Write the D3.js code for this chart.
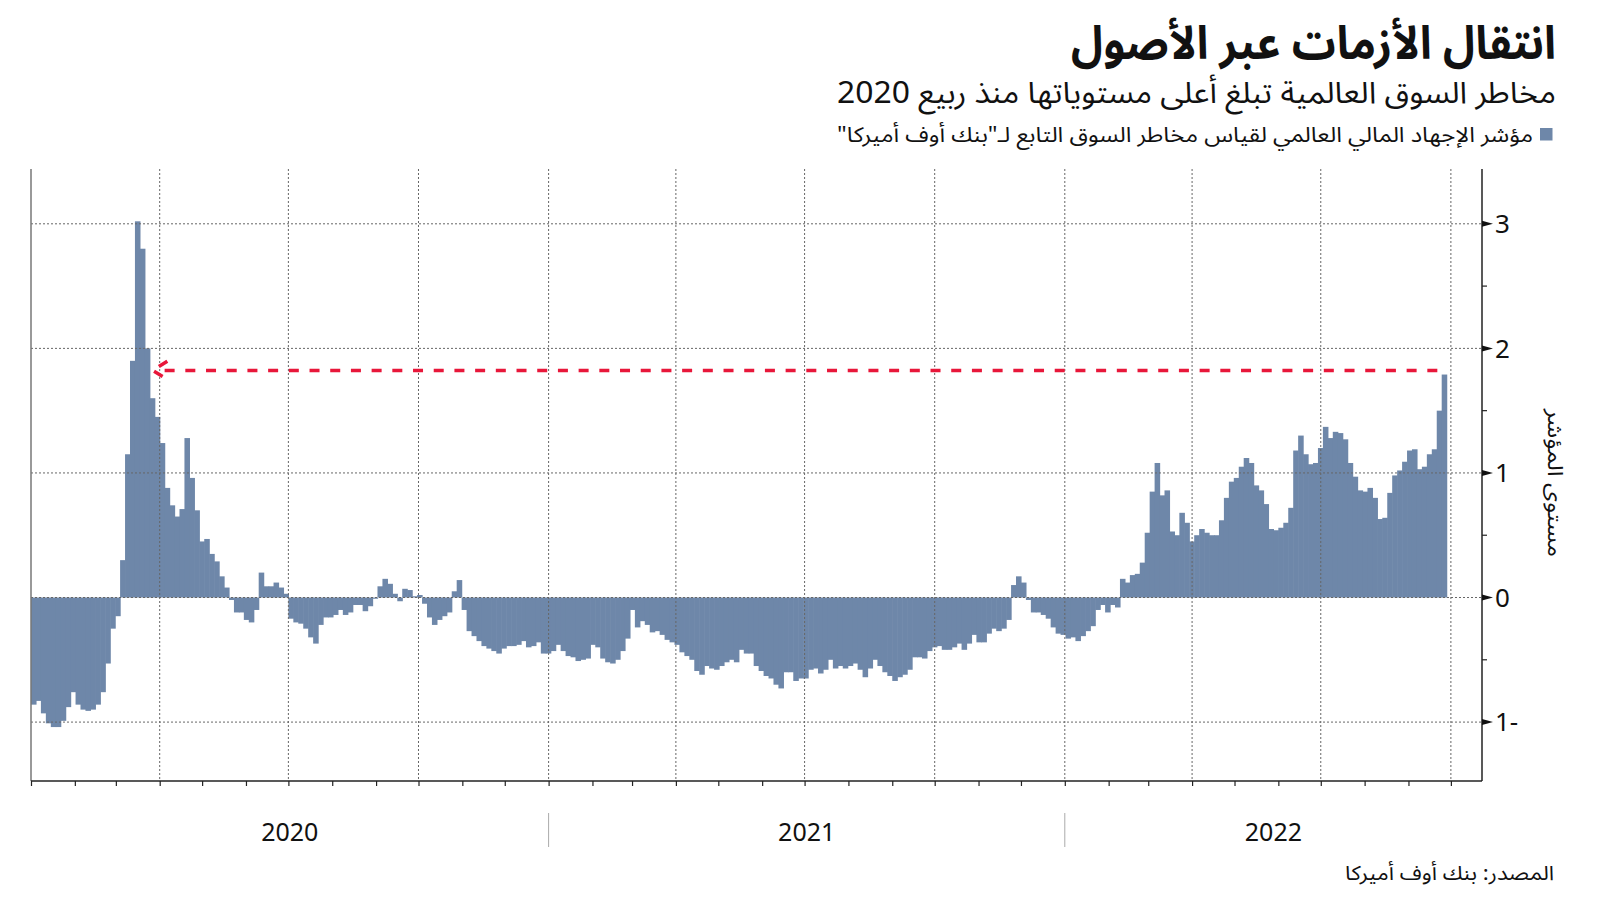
<!DOCTYPE html>
<html>
<head>
<meta charset="utf-8">
<script src="https://cdn.jsdelivr.net/npm/d3@7"></script>
<style>
	body { margin: 0; background: #fff; }
	svg { display: block; }
	.ar { font-family: "Noto Sans Arabic", "DejaVu Sans", sans-serif; }
	.num { font-family: "Noto Sans", "Open Sans", sans-serif; }
</style>
</head>
<body>
<script>

var titleText = "انتقال الأزمات عبر الأصول";
var subtitleText = "مخاطر السوق العالمية تبلغ أعلى مستوياتها منذ ربيع 2020";
var legendText = "مؤشر الإجهاد المالي العالمي لقياس مخاطر السوق التابع لـ\"بنك أوف أميركا\"";
var yTitle = "مستوى المؤشر";
var sourceText = "المصدر: بنك أوف أميركا";

// one value every half week (84h) starting 2020-01-01
var seriesStart = "2020-01-01";
var stress = [
	-0.86, -0.83, -0.93, -1.01, -1.04, -1.04, -0.99, -0.88, -0.76, -0.86,
	-0.9, -0.91, -0.9, -0.86, -0.76, -0.53, -0.25, -0.15, 0.3, 1.15,
	1.9, 3.02, 2.8, 2.0, 1.6, 1.45, 1.24, 0.88, 0.74, 0.65,
	0.71, 1.28, 0.96, 0.7, 0.45, 0.47, 0.35, 0.29, 0.17, 0.08,
	-0.02, -0.12, -0.12, -0.18, -0.2, -0.1, 0.2, 0.09, 0.09, 0.12,
	0.08, 0.03, -0.17, -0.2, -0.21, -0.25, -0.32, -0.37, -0.22, -0.16,
	-0.16, -0.14, -0.1, -0.14, -0.12, -0.06, -0.06, -0.11, -0.07, -0.01,
	0.09, 0.15, 0.11, 0.03, -0.03, 0.07, 0.06, 0.01, 0.02, -0.05,
	-0.16, -0.22, -0.18, -0.15, -0.12, 0.05, 0.14, -0.1, -0.27, -0.31,
	-0.35, -0.39, -0.41, -0.43, -0.45, -0.41, -0.39, -0.39, -0.38, -0.35,
	-0.4,
	-0.39, -0.36, -0.45, -0.45, -0.43, -0.38, -0.43, -0.47, -0.48, -0.51,
	-0.5, -0.49, -0.38, -0.4, -0.49, -0.52, -0.53, -0.5, -0.43, -0.33,
	-0.1, -0.24, -0.19, -0.22, -0.28, -0.27, -0.3, -0.34, -0.36, -0.38,
	-0.44, -0.47, -0.5, -0.59, -0.62, -0.55, -0.57, -0.58, -0.55, -0.52,
	-0.5, -0.52, -0.42, -0.45, -0.45, -0.55, -0.59, -0.63, -0.65, -0.7,
	-0.73,
	-0.6, -0.6, -0.67, -0.65, -0.65, -0.58, -0.57, -0.61, -0.58, -0.5,
	-0.57, -0.55, -0.57, -0.55, -0.53, -0.58, -0.64, -0.57, -0.5, -0.55,
	-0.6, -0.63, -0.67, -0.64, -0.62, -0.58, -0.48, -0.48, -0.49, -0.43,
	-0.4, -0.39, -0.42, -0.42, -0.4, -0.37, -0.42, -0.37, -0.3, -0.36,
	-0.36, -0.29, -0.25, -0.27, -0.25, -0.18, 0.1, 0.17, 0.12, -0.02,
	-0.12, -0.12, -0.14, -0.17, -0.24, -0.29, -0.3, -0.33, -0.32, -0.35,
	-0.31, -0.27, -0.23, -0.1, -0.06, -0.12, -0.06, -0.08, 0.15, 0.12,
	0.18, 0.19, 0.28, 0.52, 0.85, 1.08, 0.82, 0.86, 0.53, 0.5,
	0.68, 0.6, 0.45, 0.5, 0.55, 0.52, 0.5, 0.5, 0.62, 0.8,
	0.93, 0.96, 1.05, 1.12, 1.08, 0.9, 0.86, 0.75, 0.55, 0.54,
	0.56, 0.6, 0.72, 1.18, 1.3, 1.15, 1.07, 1.08, 1.2, 1.37,
	1.28, 1.33, 1.32, 1.27, 1.08, 0.97, 0.86, 0.85, 0.88, 0.8,
	0.63, 0.64, 0.84, 0.98, 1.02, 1.09, 1.18, 1.19, 1.03, 1.05,
	1.15, 1.19, 1.5, 1.79
];

var yTicks = [-1, 0, 1, 2, 3];
var yTickLabels = ["1-", "0", "1", "2", "3"];
var years = ["2020", "2021", "2022"];
var xDomain = ["2020-01-01", "2022-10-23"];

// red reference: latest reading vs spring 2020
var refLevel = 1.823;
var refStart = "2020-03-27";

var width = 1600, height = 901;
var plot = {left: 31, right: 1482, top: 169, bottom: 781};

var barColor = "#6e87a9";
var red = "#e8173a";

var svg = d3.select("body").append("svg")
	.attr("width", width)
	.attr("height", height);

var x = d3.scaleUtc()
	.domain(xDomain.map(function(d) { return new Date(d); }))
	.range([plot.left, plot.right]);

var y = d3.scaleLinear()
	.domain([-1.473, 3.44])
	.range([plot.bottom, plot.top]);

var t0 = new Date(seriesStart);
var bars = stress.map(function(v, i) {
	return {
		v: v,
		a: d3.utcHour.offset(t0, 84 * i),
		b: d3.utcHour.offset(t0, 84 * (i + 1))
	};
});

// bars
svg.append("g")
	.selectAll("rect")
	.data(bars)
	.enter().append("rect")
	.attr("x", function(d) { return x(d.a); })
	.attr("width", function(d) { return x(d.b) - x(d.a) + 0.6; })
	.attr("y", function(d) { return y(Math.max(0, d.v)); })
	.attr("height", function(d) { return Math.abs(y(d.v) - y(0)); })
	.style("fill", barColor);

// dotted grid on top of the bars
var grid = svg.append("g")
	.style("stroke", "#666")
	.style("stroke-width", 1)
	.style("stroke-dasharray", "2,2");

grid.selectAll("line.h")
	.data(yTicks)
	.enter().append("line")
	.attr("class", "h")
	.attr("x1", plot.left)
	.attr("x2", plot.right)
	.attr("y1", function(d) { return y(d); })
	.attr("y2", function(d) { return y(d); });

var quarters = d3.utcMonth.every(3).range(new Date("2020-02-01"), x.domain()[1]);
grid.selectAll("line.v")
	.data(quarters)
	.enter().append("line")
	.attr("class", "v")
	.attr("x1", function(d) { return x(d); })
	.attr("x2", function(d) { return x(d); })
	.attr("y1", plot.top)
	.attr("y2", plot.bottom);

// frame
svg.append("line")
	.attr("x1", plot.left).attr("x2", plot.left)
	.attr("y1", plot.top).attr("y2", plot.bottom)
	.style("stroke", "#777")
	.style("stroke-width", 1.5);

var xAxis = d3.axisBottom(x)
	.ticks(d3.utcMonth.every(1))
	.tickSize(5)
	.tickFormat("");

svg.append("g")
	.attr("transform", "translate(0," + plot.bottom + ")")
	.call(xAxis)
	.call(function(g) {
		g.select(".domain").attr("d", "M" + plot.left + ",0H" + plot.right).style("stroke", "#222").style("stroke-width", 1.5);
		g.selectAll(".tick line").style("stroke", "#222").style("stroke-width", 1.2);
	});

// right axis with arrow ticks
var yr = svg.append("g");
yr.append("line")
	.attr("x1", plot.right).attr("x2", plot.right)
	.attr("y1", plot.top).attr("y2", plot.bottom)
	.style("stroke", "#222")
	.style("stroke-width", 1.5);

yr.selectAll("path.tri")
	.data(yTicks)
	.enter().append("path")
	.attr("class", "tri")
	.attr("d", function(d) { var yy = y(d); return "M" + plot.right + "," + (yy - 3) + "L" + (plot.right + 11) + "," + yy + "L" + plot.right + "," + (yy + 3) + "Z"; })
	.style("fill", "#111");

yr.selectAll("line.minor")
	.data(yTicks.slice(0, -1).map(function(d) { return d + 0.5; }))
	.enter().append("line")
	.attr("class", "minor")
	.attr("x1", plot.right).attr("x2", plot.right + 5)
	.attr("y1", function(d) { return y(d); })
	.attr("y2", function(d) { return y(d); })
	.style("stroke", "#222")
	.style("stroke-width", 1.2);

yr.selectAll("text")
	.data(yTicks)
	.enter().append("text")
	.attr("class", "num")
	.attr("x", plot.right + 13)
	.attr("y", function(d) { return y(d); })
	.attr("dy", "0.36em")
	.style("font-size", "26px")
	.style("fill", "#111")
	.text(function(d, i) { return yTickLabels[i]; });

svg.append("text")
	.attr("class", "ar")
	.attr("transform", "translate(1548,483) rotate(90)")
	.attr("text-anchor", "middle")
	.attr("textLength", 148)
	.attr("lengthAdjust", "spacingAndGlyphs")
	.style("font-size", "21px")
	.style("fill", "#111")
	.text(yTitle);

// year labels and separators
var yearStarts = years.map(function(d) { return new Date(d + "-01-01"); });
yearStarts.push(x.domain()[1]);

svg.selectAll("text.year")
	.data(years)
	.enter().append("text")
	.attr("class", "num year")
	.attr("x", function(d, i) { return (x(yearStarts[i]) + x(yearStarts[i + 1])) / 2; })
	.attr("y", 841)
	.attr("text-anchor", "middle")
	.style("font-size", "25px")
	.style("fill", "#111")
	.text(function(d) { return d; });

svg.selectAll("line.sep")
	.data(yearStarts.slice(1, 3))
	.enter().append("line")
	.attr("x1", function(d) { return x(d); })
	.attr("x2", function(d) { return x(d); })
	.attr("y1", 813)
	.attr("y2", 847)
	.style("stroke", "#aaa")
	.style("stroke-width", 1);

// dashed reference line with open arrow head
var ry = y(refLevel);
var rx = x(new Date(refStart));
svg.append("line")
	.attr("x1", rx + 12)
	.attr("x2", x(bars[bars.length - 1].b))
	.attr("y1", ry)
	.attr("y2", ry)
	.style("stroke", red)
	.style("stroke-width", 3.5)
	.style("stroke-dasharray", "10,10.7");

svg.append("path")
	.attr("d", "M" + (rx + 10) + "," + (ry + 6) + "L" + rx + "," + ry + "L" + (rx + 16) + "," + (ry - 10))
	.style("fill", "none")
	.style("stroke", red)
	.style("stroke-width", 3.5)
	.style("stroke-dasharray", "10,9");

// headings
function heading(txt, xr, yb, size, weight, w) {
	return svg.append("text")
		.attr("class", "ar")
		.attr("x", xr)
		.attr("y", yb)
		.attr("direction", "rtl")
		.attr("text-anchor", "start")
		.attr("textLength", w)
		.attr("lengthAdjust", "spacingAndGlyphs")
		.style("font-size", size + "px")
		.style("font-weight", weight)
		.style("fill", "#111")
		.text(txt);
}

heading(titleText, 1556, 59, 46, 700, 485);
heading(subtitleText, 1556, 103, 30, 400, 719);
heading(legendText, 1533, 142, 21, 400, 696);
heading(sourceText, 1554, 880, 20, 400, 209);

svg.append("rect")
	.attr("x", 1540)
	.attr("y", 128)
	.attr("width", 12.5)
	.attr("height", 12.5)
	.style("fill", barColor);

</script>
</body>
</html>
